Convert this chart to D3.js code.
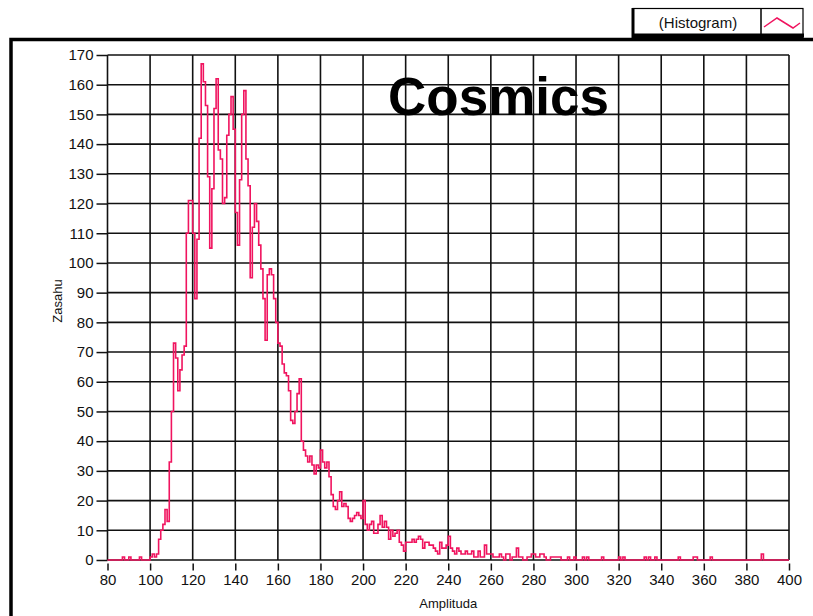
<!DOCTYPE html>
<html>
<head>
<meta charset="utf-8">
<script src="https://cdn.jsdelivr.net/npm/d3@7/dist/d3.min.js"></script>
<style>
  body { margin: 0; background: #fff; }
  svg { display: block; font-family: "Liberation Sans", Arial, sans-serif; }
</style>
</head>
<body>
<svg width="813" height="616"></svg>
<script>
// histogram counts, one value per amplitude step, starting at 80
const ampStart = 80;
const counts = [
  0,0,0,0,0,0,0,1,0,0,          // 80
  1,0,0,0,0,1,0,0,0,0,          // 90
  1,2,1,2,7,10,12,17,13,33,     // 100
  50,73,68,57,64,69,72,110,121,121,   // 110
  110,88,108,142,167,161,153,129,105,125, // 120
  152,162,138,135,120,122,143,150,156,145, // 130
  117,106,128,150,158,135,126,95,112,120,  // 140
  114,106,98,88,74,96,98,96,88,80,  // 150
  73,72,66,63,62,57,47,46,50,56,    // 160
  61,40,37,35,33,35,32,29,32,31,    // 170
  37,33,31,33,28,22,18,17,20,23,    // 180
  18,19,18,14,13,14,15,16,15,14,    // 190
  20,12,10,12,13,9,9,12,15,11,      // 200
  13,11,7,10,8,9,10,6,5,3,          // 210
  6,6,6,7,6,7,8,7,4,6,              // 220
  6,5,5,4,3,2,6,4,4,5,              // 230
  8,4,3,2,4,3,2,2,3,2,              // 240
  2,3,1,1,3,1,1,5,2,2,              // 250
  2,1,1,1,2,1,0,2,2,0,              // 260
  1,1,4,1,1,0,0,1,1,2,              // 270
  2,1,1,2,2,1,0,0,1,1,              // 280
  1,1,1,0,0,0,1,0,0,1,              // 290
  0,0,0,1,0,1,0,0,0,0,              // 300
  0,0,1,0,0,0,0,0,0,0,              // 310
  1,0,1,0,0,0,0,0,0,0,              // 320
  0,0,1,0,1,0,0,1,0,0,              // 330
  0,0,0,0,0,0,0,0,1,0,              // 340
  0,0,0,0,0,1,1,0,0,0,              // 350
  0,0,0,1,0,0,0,0,0,0,              // 360
  0,0,0,0,0,0,0,0,0,0,              // 370
  0,0,0,0,0,0,0,2,0,0,              // 380
  0,0,0,0,0,0,0,0,0,0,              // 390
  0                                 // 400
];
const xTicks = [80,100,120,140,160,180,200,220,240,260,280,300,320,340,360,380,400];
const yTicks = [0,10,20,30,40,50,60,70,80,90,100,110,120,130,140,150,160,170];
const title = "Cosmics";
const xLabel = "Amplituda";
const yLabel = "Zasahu";
const legendLabel = "(Histogram)";

const lineColor = "#f0145f";
const svg = d3.select("svg");
const margin = {top: 55, left: 107.5, right: 24, bottom: 56};
const w = 813, h = 616;

const x = d3.scaleLinear().domain([80, 400]).range([margin.left, w - margin.right]);
const y = d3.scaleLinear().domain([0, 170]).range([h - margin.bottom, margin.top]);

// outer panel frame
svg.append("path")
  .attr("d", "M11,616 V39.5 H813")
  .attr("fill", "none").attr("stroke", "#000").attr("stroke-width", 3.5);

// legend box
const lg = svg.append("g");
lg.append("rect").attr("x", 633).attr("y", 8.5).attr("width", 170).attr("height", 29)
  .attr("fill", "#fff").attr("stroke", "#000").attr("stroke-width", 1.2);
lg.append("line").attr("x1", 633).attr("x2", 633).attr("y1", 8).attr("y2", 39)
  .attr("stroke", "#000").attr("stroke-width", 3);
lg.append("line").attr("x1", 633).attr("x2", 804).attr("y1", 35.5).attr("y2", 35.5)
  .attr("stroke", "#000").attr("stroke-width", 4);
lg.append("line").attr("x1", 761).attr("x2", 761).attr("y1", 9).attr("y2", 34)
  .attr("stroke", "#000").attr("stroke-width", 1.5);
lg.append("text").attr("x", 698).attr("y", 28).attr("text-anchor", "middle")
  .attr("font-size", 15).attr("fill", "#111").text(legendLabel);
lg.append("polyline").attr("points", "764,27 777,18 793,28 800,23")
  .attr("fill", "none").attr("stroke", lineColor).attr("stroke-width", 1.5);

// grid
const grid = svg.append("g").attr("stroke", "#111").attr("stroke-width", 1.6);
grid.selectAll(".vx").data(xTicks).enter().append("line")
  .attr("x1", d => x(d)).attr("x2", d => x(d))
  .attr("y1", y(170)).attr("y2", y(0));
grid.selectAll(".hy").data(yTicks).enter().append("line")
  .attr("x1", x(80)).attr("x2", x(400))
  .attr("y1", d => y(d)).attr("y2", d => y(d));

// axes
const xAxis = d3.axisBottom(x).tickValues(xTicks).tickSize(7).tickPadding(4);
const yAxis = d3.axisLeft(y).tickValues(yTicks).tickSize(11).tickPadding(3);
const gx = svg.append("g").attr("transform", "translate(0," + (y(0) + 3.5) + ")").call(xAxis);
const gy = svg.append("g").attr("transform", "translate(" + (x(80)) + ",0)").call(yAxis);
[gx, gy].forEach(g => {
  g.select(".domain").remove();
  g.selectAll(".tick line").attr("stroke", "#111").attr("stroke-width", 1.5);
  g.selectAll(".tick text").attr("font-size", 15).attr("fill", "#111")
    .attr("font-family", "Liberation Sans, Arial, sans-serif");
});

// histogram line, drawn as steps like the original instrument plot
const line = d3.line()
  .x((d, i) => x(ampStart + i))
  .y(d => y(d))
  .curve(d3.curveStepAfter);
svg.append("path").datum(counts)
  .attr("d", line)
  .attr("fill", "none").attr("stroke", lineColor).attr("stroke-width", 1.6);

// labels
svg.append("text").attr("x", 388).attr("y", 115)
  .attr("font-size", 53).attr("font-weight", "bold").attr("fill", "#000").text(title);
svg.append("text").attr("x", (x(80) + x(400)) / 2).attr("y", 608).attr("text-anchor", "middle")
  .attr("font-size", 13).attr("fill", "#111").text(xLabel);
svg.append("text").attr("transform", "translate(62,301) rotate(-90)").attr("text-anchor", "middle")
  .attr("font-size", 13).attr("fill", "#111").text(yLabel);
</script>
</body>
</html>
